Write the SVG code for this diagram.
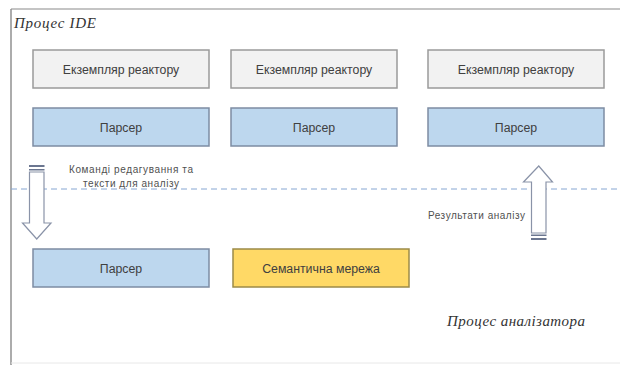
<svg xmlns="http://www.w3.org/2000/svg" width="620" height="365" viewBox="0 0 620 365">
<style>
.gray{fill:#f2f2f2;stroke:#9a9a9a;stroke-width:1.5}
.blue{fill:#bdd7ee;stroke:#7d8ca3;stroke-width:1.5}
.yel{fill:#ffd966;stroke:#9c8a48;stroke-width:1.5}
.t{font-family:"Liberation Sans",Arial,sans-serif;font-size:12.3px;fill:#404040;text-anchor:middle}
.s{font-family:"Liberation Sans",Arial,sans-serif;font-size:10px;fill:#505050}
.ttl{font-family:"Liberation Serif","Times New Roman",serif;font-style:italic;font-size:15px;fill:#333}
.arr{fill:#fff;stroke:#8a93a8;stroke-width:1.2}
.band{fill:#6b7690}
</style>
<rect width="620" height="365" fill="#fff"/>
<g id="frame">
<line x1="11" y1="9" x2="620" y2="9" stroke="#b0b0b0" stroke-width="1.5"/>
<line x1="11" y1="9" x2="11" y2="365" stroke="#909090" stroke-width="1.5"/>
<line x1="11" y1="363" x2="620" y2="363" stroke="#e8e8e8" stroke-width="1"/>
</g>
<text class="ttl" x="14" y="28" textLength="82">Процес IDE</text>
<text class="ttl" x="447" y="326" textLength="138">Процес аналізатора</text>
<g id="reactor1"><rect class="gray" x="33" y="50" width="176" height="38"/><text class="t" x="121" y="73.5">Екземпляр реактору</text></g>
<g id="reactor2"><rect class="gray" x="231" y="50" width="166" height="38"/><text class="t" x="314" y="73.5">Екземпляр реактору</text></g>
<g id="reactor3"><rect class="gray" x="428" y="50" width="176" height="38"/><text class="t" x="516" y="73.5">Екземпляр реактору</text></g>
<g id="parser1"><rect class="blue" x="33" y="108" width="176" height="38"/><text class="t" x="121" y="131.5">Парсер</text></g>
<g id="parser2"><rect class="blue" x="231" y="108" width="166" height="38"/><text class="t" x="314" y="131.5">Парсер</text></g>
<g id="parser3"><rect class="blue" x="428" y="108" width="176" height="38"/><text class="t" x="516" y="131.5">Парсер</text></g>
<g id="parser4"><rect class="blue" x="33" y="249" width="176" height="38"/><text class="t" x="121" y="272.5">Парсер</text></g>
<g id="semnet"><rect class="yel" x="233" y="249" width="176" height="38"/><text class="t" x="321" y="272.5">Семантична мережа</text></g>
<g id="connectors">
<line x1="11" y1="189" x2="620" y2="189" stroke="#86a6d2" stroke-width="1" stroke-dasharray="6,4"/>
<path class="arr" d="M29.5,172 H44 V223 H51 L36.75,239 L22.5,223 H29.5 Z"/>
<rect class="band" x="29" y="165" width="15.5" height="2"/>
<rect class="band" x="29" y="169" width="15.5" height="1.5"/>
<path class="arr" d="M531.5,233 H546 V182 H552.5 L538.75,166 L523.5,182 H531.5 Z"/>
<rect class="band" x="531" y="234.5" width="15.5" height="1.5"/>
<rect class="band" x="531" y="238" width="15.5" height="2"/>
<text class="s" x="131" y="173" text-anchor="middle" textLength="124">Команді редагування та</text>
<text class="s" x="131" y="187" text-anchor="middle" textLength="96">тексти для аналізу</text>
<text class="s" x="428" y="219" textLength="97">Результати аналізу</text>
</g>
</svg>
